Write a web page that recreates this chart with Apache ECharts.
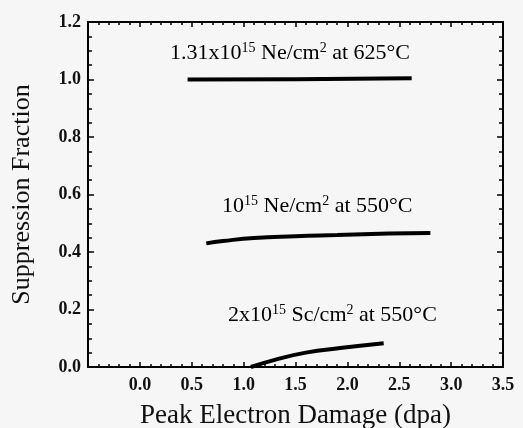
<!DOCTYPE html>
<html><head><meta charset="utf-8">
<script src="https://cdn.jsdelivr.net/npm/echarts@6/dist/echarts.min.js"></script>
<style>html,body{margin:0;padding:0;background:#f6f6f6;}#c{width:523px;height:428px;}</style>
</head><body><div id="c"></div>
<script>
var xTicks = [-0.5, 0.0, 0.5, 1.0, 1.5, 2.0, 2.5, 3.0, 3.5];
var yTicks = [0.0, 0.2, 0.4, 0.6, 0.8, 1.0, 1.2];
var neon625 = [[0.46, 1.0], [1.5, 1.001], [2.62, 1.004]];
var neon550 = [[0.64, 0.43], [0.8, 0.438], [1.1, 0.449], [1.5, 0.455], [1.9, 0.459], [2.4, 0.464], [2.8, 0.466]];
var sc550 = [[1.07, 0.0], [1.3, 0.025], [1.6, 0.05], [1.93, 0.066], [2.35, 0.083]];
var seriesNames = ['1.31x10^15 Ne/cm2 at 625°C', '10^15 Ne/cm2 at 550°C', '2x10^15 Sc/cm2 at 550°C'];

var serif = '"Liberation Serif", "DejaVu Serif", serif';
var rich = {
  t: {fontFamily: serif, fontSize: 22, color: '#111'},
  s: {fontFamily: serif, fontSize: 14, color: '#111', verticalAlign: 'top', padding: [0, 0, 10, 0]}
};
var chart = echarts.init(document.getElementById('c'));
function line(name, data) {
  return {type: 'line', name: name, data: data, smooth: true, showSymbol: false,
    lineStyle: {color: '#000', width: 4}, xAxisIndex: 0, yAxisIndex: 0, animation: false};
}
var tickStyle = {color: '#000', width: 1.5};
function xAx(pos, withLabels) {
  var a = {
    type: 'value', min: xTicks[0], max: xTicks[xTicks.length - 1], interval: 0.5,
    position: pos,
    axisLine: {onZero: false, lineStyle: {color: '#000', width: 2}},
    axisTick: {inside: true, length: 5, lineStyle: tickStyle},
    minorTick: {show: true, splitNumber: 5, length: 3, lineStyle: tickStyle},
    splitLine: {show: false}, axisLabel: {show: false}
  };
  if (withLabels) {
    a.name = 'Peak Electron Damage (dpa)'; a.nameLocation = 'middle'; a.nameGap = 35;
    a.nameTextStyle = {fontFamily: serif, fontSize: 27, color: '#111'};
    a.axisLabel = {show: true, margin: 9, fontFamily: serif, fontWeight: 'bold', fontSize: 18, color: '#111',
      formatter: function (v) { return v < 0 ? '' : v.toFixed(1); }};
  }
  return a;
}
function yAx(pos, withLabels) {
  var a = {
    type: 'value', min: yTicks[0], max: yTicks[yTicks.length - 1], interval: 0.2,
    position: pos,
    axisLine: {show: true, onZero: false, lineStyle: {color: '#000', width: 2}},
    axisTick: {show: true, inside: true, length: 6, lineStyle: tickStyle},
    minorTick: {show: true, splitNumber: 4, length: 4, lineStyle: tickStyle},
    splitLine: {show: false}, axisLabel: {show: false}
  };
  if (withLabels) {
    a.name = 'Suppression Fraction'; a.nameLocation = 'middle'; a.nameGap = 53;
    a.nameTextStyle = {fontFamily: serif, fontSize: 26, color: '#111'};
    a.axisLabel = {show: true, margin: 7, fontFamily: serif, fontWeight: 'bold', fontSize: 18, color: '#111',
      formatter: function (v) { return v.toFixed(1); }};
  }
  return a;
}
chart.setOption({
  backgroundColor: '#f6f6f6',
  animation: false,
  grid: {left: 88, right: 20, top: 22, bottom: 61, containLabel: false, outerBoundsMode: 'none'},
  xAxis: [xAx('bottom', true), xAx('top', false)],
  yAxis: [yAx('left', true), yAx('right', false)],
  graphic: [
    {type: 'text', left: 170, top: 41, style: {rich: rich,
      text: '{t|1.31x10}{s|15}{t| Ne/cm}{s|2}{t| at 625°C}'}},
    {type: 'text', left: 222, top: 194, style: {rich: rich,
      text: '{t|10}{s|15}{t| Ne/cm}{s|2}{t| at 550°C}'}},
    {type: 'text', left: 228, top: 303, style: {rich: rich,
      text: '{t|2x10}{s|15}{t| Sc/cm}{s|2}{t| at 550°C}'}}
  ],
  series: [line(seriesNames[0], neon625), line(seriesNames[1], neon550), line(seriesNames[2], sc550)]
});
</script></body></html>
